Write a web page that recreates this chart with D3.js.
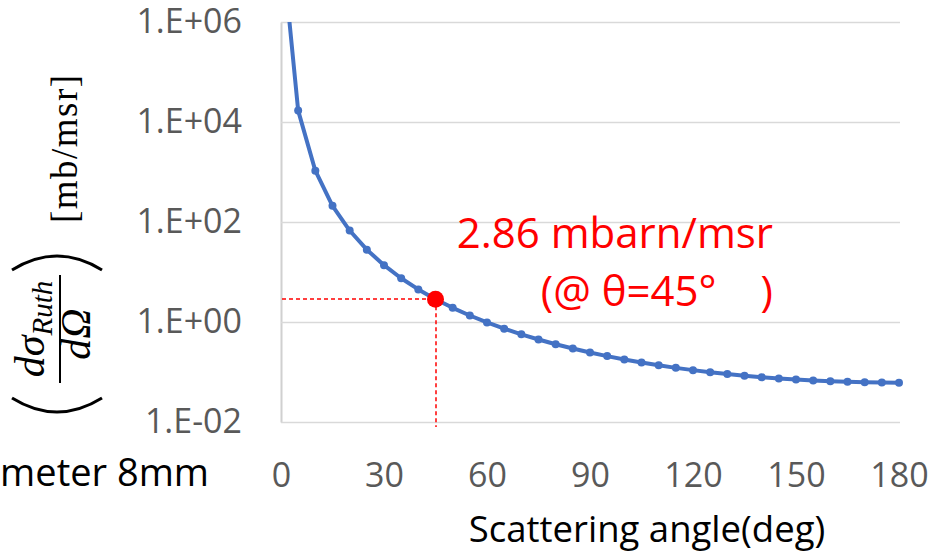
<!DOCTYPE html>
<html>
<head>
<meta charset="utf-8">
<script src="https://cdn.jsdelivr.net/npm/d3@7"></script>
<style>
  body { margin: 0; background: #fff; }
  svg { display: block; }
</style>
</head>
<body>
<div id="chart"></div>
<script>
// Rutherford cross section (mb/msr), every 5 degrees
const angles = [1, 5, 10, 15, 20, 25, 30, 35, 40, 45, 50, 55, 60, 65, 70, 75, 80, 85, 90,
                95, 100, 105, 110, 115, 120, 125, 130, 135, 140, 145, 150, 155, 160, 165, 170, 175, 180];
const sigma = [1.06e7, 16900, 1060, 211, 67.5, 28.0, 13.7, 7.50, 4.48, 2.86, 1.92, 1.35, 0.981,
               0.736, 0.567, 0.447, 0.359, 0.295, 0.245, 0.208, 0.178, 0.155, 0.136, 0.121,
               0.109, 0.0991, 0.0909, 0.0842, 0.0787, 0.0741, 0.0705, 0.0675, 0.0652, 0.0635,
               0.0623, 0.0616, 0.0613];
const refAngle = [45];
const refSigma = [2.86];

const xTicks = [0, 30, 60, 90, 120, 150, 180];
const yTicks = [1e-2, 1e0, 1e2, 1e4, 1e6];
const yTickLabels = ["1.E-02", "1.E+00", "1.E+02", "1.E+04", "1.E+06"];

const W = 937, H = 555;
const plot = { left: 281, right: 899, top: 22, bottom: 422 };

const svg = d3.select("#chart").append("svg")
    .attr("width", W).attr("height", H);

const x = d3.scaleLinear().domain([0, 180]).range([plot.left, plot.right]);
const y = d3.scaleLog().domain([1e-2, 1e6]).range([plot.bottom, plot.top]);

const tickFont = "'Open Sans', sans-serif";

// Y axis with gridlines
const yAxis = svg.append("g")
    .attr("transform", `translate(${plot.left},0)`)
    .call(d3.axisLeft(y)
        .tickValues(yTicks)
        .tickFormat((d, i) => yTickLabels[i])
        .tickSize(-(plot.right - plot.left + 1))
        .tickSizeOuter(0)
        .tickPadding(39));
yAxis.select(".domain").attr("stroke", "#d0d0d0").attr("stroke-width", 2);
yAxis.selectAll(".tick line").attr("stroke", "#d9d9d9").attr("stroke-width", 1.6);
yAxis.selectAll(".tick text")
    .attr("fill", "#595959")
    .style("font-family", tickFont)
    .style("font-size", "34px");

// X axis (labels only)
const xAxis = svg.append("g")
    .attr("transform", `translate(0,${plot.bottom})`)
    .call(d3.axisBottom(x).tickValues(xTicks).tickSize(0).tickPadding(41));
xAxis.select(".domain").remove();
xAxis.selectAll(".tick text")
    .attr("fill", "#595959")
    .style("font-family", tickFont)
    .style("font-size", "34px");

// clip to plot area
svg.append("clipPath").attr("id", "clip")
  .append("rect")
    .attr("x", plot.left).attr("y", plot.top)
    .attr("width", plot.right - plot.left + 10)
    .attr("height", plot.bottom - plot.top + 10);

const data = angles.map((a, i) => ({ a: a, v: sigma[i] }));

const g = svg.append("g").attr("clip-path", "url(#clip)");

g.append("path")
    .datum(data)
    .attr("fill", "none")
    .attr("stroke", "#4472C4")
    .attr("stroke-width", 4)
    .attr("stroke-linejoin", "round")
    .attr("d", d3.line().x(d => x(d.a)).y(d => y(d.v)));

g.selectAll(".pt")
    .data(data)
    .enter()
    .append("circle")
    .attr("class", "pt")
    .attr("cx", d => x(d.a))
    .attr("cy", d => y(d.v))
    .attr("r", 4)
    .attr("fill", "#4472C4");

// reference point and dashed guides
const ref = refAngle.map((a, i) => ({ a: a, v: refSigma[i] }));

svg.selectAll(".guide-h")
    .data(ref)
    .enter()
    .append("line")
    .attr("x1", plot.left + 1).attr("x2", d => x(d.a))
    .attr("y1", d => Math.round(y(d.v))).attr("y2", d => Math.round(y(d.v)))
    .attr("stroke", "#ff0000").attr("stroke-width", 1.5)
    .attr("stroke-dasharray", "4,3");

svg.selectAll(".guide-v")
    .data(ref)
    .enter()
    .append("line")
    .attr("x1", d => Math.round(x(d.a))).attr("x2", d => Math.round(x(d.a)))
    .attr("y1", d => y(d.v)).attr("y2", plot.bottom + 5)
    .attr("stroke", "#ff0000").attr("stroke-width", 1.5)
    .attr("stroke-dasharray", "4,3");

svg.selectAll(".ref")
    .data(ref)
    .enter()
    .append("circle")
    .attr("cx", d => x(d.a))
    .attr("cy", d => y(d.v))
    .attr("r", 8.5)
    .attr("fill", "#ff0000");

// annotation
svg.append("text")
    .attr("x", 773).attr("y", 248)
    .attr("text-anchor", "end")
    .attr("fill", "#ff0000")
    .style("font-family", tickFont)
    .style("font-size", "42px")
    .text("2.86 mbarn/msr");

const note2 = svg.append("text")
    .attr("x", 773).attr("y", 306)
    .attr("text-anchor", "end")
    .attr("fill", "#ff0000")
    .style("font-family", tickFont)
    .style("font-size", "42px");
note2.append("tspan").text("(@ θ=45°");
note2.append("tspan").attr("dx", 44).text(")");

// axis titles
svg.append("text")
    .attr("x", 647).attr("y", 542)
    .attr("text-anchor", "middle")
    .attr("fill", "#000")
    .style("font-family", tickFont)
    .style("font-size", "36.5px")
    .text("Scattering angle(deg)");

svg.append("text")
    .attr("x", 209).attr("y", 486)
    .attr("text-anchor", "end")
    .attr("fill", "#000")
    .style("font-family", tickFont)
    .style("font-size", "38px")
    .text("meter 8mm");

// rotated y label: (dσ_Ruth / dΩ) [mb/msr]
const serif = "'Liberation Serif', 'DejaVu Serif', serif";
const yl = svg.append("g").attr("transform", "rotate(-90)");

yl.append("text")
    .attr("x", -223).attr("y", 77)
    .attr("textLength", 148)
    .attr("fill", "#000")
    .style("font-family", serif)
    .style("font-size", "37px")
    .text("[mb/msr]");

const num = yl.append("text")
    .attr("x", -329).attr("y", 44)
    .attr("text-anchor", "middle")
    .attr("fill", "#000")
    .style("font-family", serif)
    .style("font-style", "italic")
    .style("font-size", "42px");
num.append("tspan").text("dσ");
num.append("tspan").attr("dy", 8).style("font-size", "29px").text("Ruth");

yl.append("line")
    .attr("x1", -383).attr("x2", -275)
    .attr("y1", 60).attr("y2", 60)
    .attr("stroke", "#000").attr("stroke-width", 2);

yl.append("text")
    .attr("x", -334).attr("y", 90)
    .attr("text-anchor", "middle")
    .attr("fill", "#000")
    .style("font-family", serif)
    .style("font-style", "italic")
    .style("font-size", "42px")
    .text("dΩ");

// big parentheses
svg.append("path")
    .attr("d", "M12,398 Q57,426 102,398")
    .attr("fill", "none").attr("stroke", "#000").attr("stroke-width", 3);
svg.append("path")
    .attr("d", "M12,270 Q57,242 102,270")
    .attr("fill", "none").attr("stroke", "#000").attr("stroke-width", 3);
</script>
</body>
</html>
